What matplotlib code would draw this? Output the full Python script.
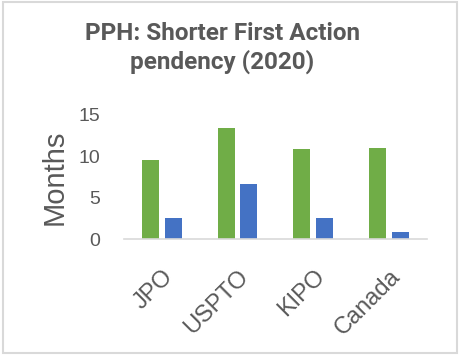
import numpy as np
import matplotlib
matplotlib.use("Agg")
import matplotlib.pyplot as plt
from matplotlib.patches import Rectangle

offices = ["JPO", "USPTO", "KIPO", "Canada"]
pendency_normal = [9.6, 13.4, 10.9, 11.0]
pendency_pph = [2.6, 6.7, 2.6, 0.9]
yticks = [0, 5, 10, 15]

grey_txt = "#595959"

fig = plt.figure(figsize=(4.61, 3.56), dpi=100)
ax = fig.add_axes([0.269, 0.328, 0.657, 0.349])

x = np.arange(len(offices))
w = 0.225
ax.bar(x - 0.15, pendency_normal, w, color="#70AD47")
ax.bar(x + 0.15, pendency_pph, w, color="#4472C4")

ax.set_xlim(-0.5, len(offices) - 0.5)
ax.set_ylim(0, 15)
ax.set_yticks(yticks)
ax.set_yticklabels([str(t) for t in yticks], fontsize=14, color=grey_txt,
                   family="Liberation Sans")
ax.set_xticks(x)
ax.set_xticklabels(offices, fontsize=17, color=grey_txt, family="Liberation Sans",
                   rotation=45, ha="right", rotation_mode="anchor")
ax.tick_params(axis="y", length=0, pad=17)
ax.tick_params(axis="x", length=0, pad=19)

for s in ["top", "right", "left"]:
    ax.spines[s].set_visible(False)
ax.spines["bottom"].set_color("#d9d9d9")
ax.spines["bottom"].set_linewidth(1.2)

ax.set_ylabel("Months", fontsize=21, color=grey_txt, family="Liberation Sans", labelpad=7)

fig.text(0.482, 0.865, "PPH: Shorter First Action\npendency (2020)", ha="center", va="center",
         fontsize=17.5, fontweight="bold", color=grey_txt, family="Roboto", linespacing=1.2)

# outer chart border
fig.patches.append(Rectangle((0.006, 0.008), 0.985, 0.985, transform=fig.transFigure,
                             fill=False, edgecolor="#d9d9d9", linewidth=1.5))

fig.savefig("out.png", dpi=100)
